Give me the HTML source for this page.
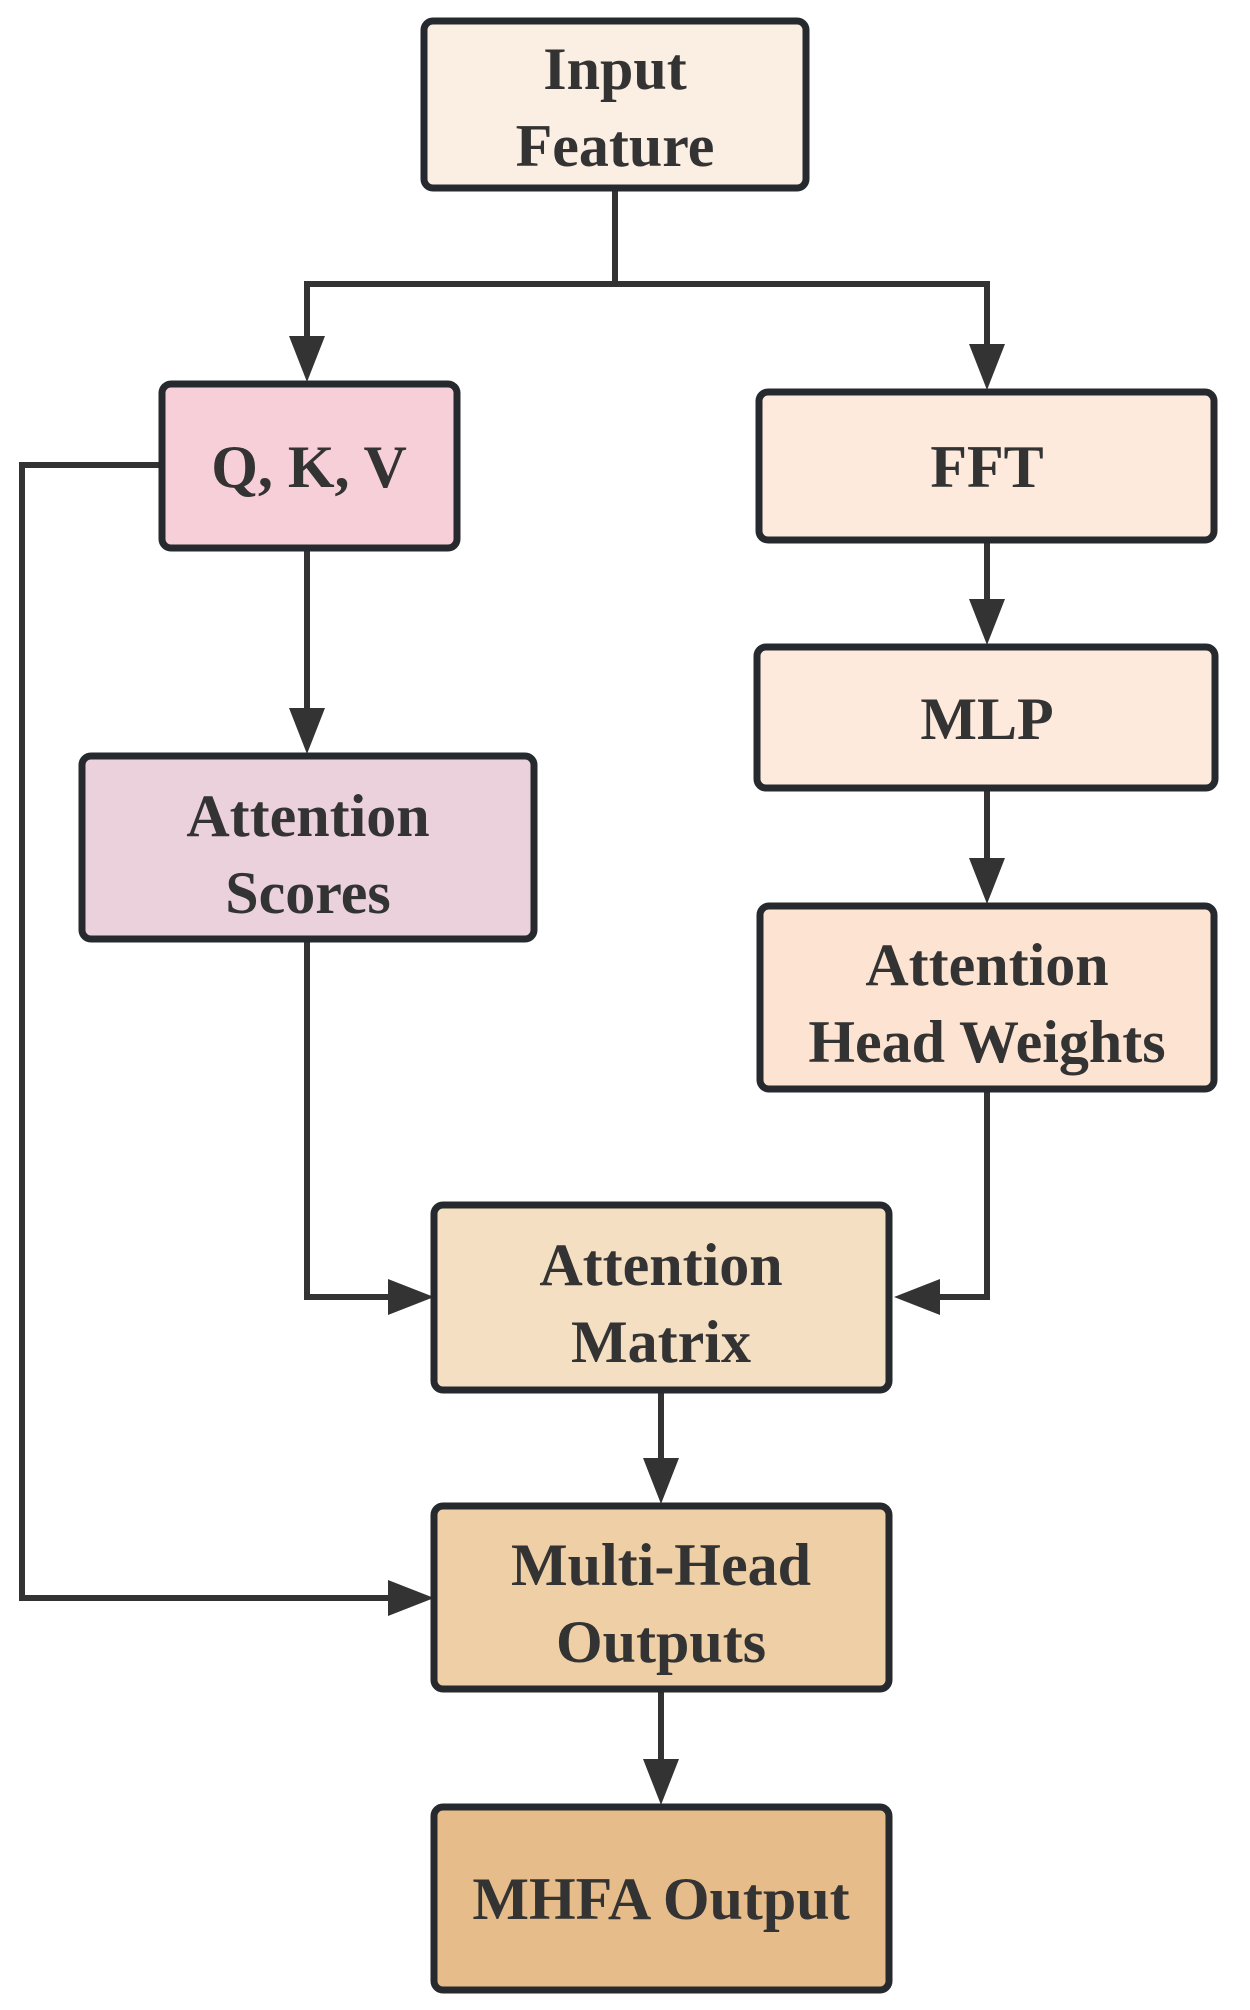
<!DOCTYPE html>
<html><head><meta charset="utf-8"><style>
html,body{margin:0;padding:0;background:#fff;}
svg{display:block}
text{font-family:"Liberation Serif",serif;font-weight:bold;font-size:60px;fill:#333;text-anchor:middle;}
</style></head><body>
<svg width="1250" height="2010" viewBox="0 0 1250 2010" xmlns="http://www.w3.org/2000/svg">
<g fill="none" stroke="#333" stroke-width="6">
<polyline points="615,189 615,284 307,284 307,340"/>
<polyline points="615,284 987,284 987,348"/>
<line x1="307" y1="549" x2="307" y2="712"/>
<line x1="987" y1="541" x2="987" y2="603"/>
<line x1="987" y1="789" x2="987" y2="862"/>
<polyline points="307,940 307,1297 391,1297"/>
<polyline points="987,1090 987,1297 937,1297"/>
<line x1="661" y1="1390" x2="661" y2="1462"/>
<polyline points="162,465 22,465 22,1598 391,1598"/>
<line x1="661" y1="1690" x2="661" y2="1763"/>
</g>
<g fill="#333">
<polygon points="289,336 325,336 307,382"/>
<polygon points="969,344 1005,344 987,390"/>
<polygon points="289,708 325,708 307,754"/>
<polygon points="969,599 1005,599 987,645"/>
<polygon points="969,858 1005,858 987,904"/>
<polygon points="388,1279 388,1315 434,1297"/>
<polygon points="940,1279 940,1315 894,1297"/>
<polygon points="643,1458 679,1458 661,1504"/>
<polygon points="388,1580 388,1616 434,1598"/>
<polygon points="643,1759 679,1759 661,1805"/>
</g>
<g stroke="#262a2e" stroke-width="7">
<rect x="424" y="21" width="382" height="167" rx="9" fill="#fbeee2"/>
<rect x="162" y="384" width="295" height="164" rx="9" fill="#f7cfd8"/>
<rect x="759" y="392" width="455" height="148" rx="9" fill="#fdeadd"/>
<rect x="757" y="647" width="458" height="141" rx="9" fill="#fdeadd"/>
<rect x="82" y="756" width="452" height="183" rx="9" fill="#ebd1dc"/>
<rect x="760" y="906" width="454" height="183" rx="9" fill="#fde3d1"/>
<rect x="434" y="1205" width="455" height="185" rx="9" fill="#f5dfc3"/>
<rect x="434" y="1506" width="455" height="183" rx="9" fill="#efcfa6"/>
<rect x="434" y="1807" width="455" height="183" rx="9" fill="#e6bc8a"/>
</g>
<text x="615" y="89">Input</text>
<text x="615" y="166">Feature</text>
<text x="309" y="487">Q, K, V</text>
<text x="987" y="487">FFT</text>
<text x="987" y="739">MLP</text>
<text x="308" y="836">Attention</text>
<text x="308" y="913">Scores</text>
<text x="987" y="985">Attention</text>
<text x="987" y="1062">Head Weights</text>
<text x="661" y="1285">Attention</text>
<text x="661" y="1362">Matrix</text>
<text x="661" y="1585">Multi-Head</text>
<text x="661" y="1662">Outputs</text>
<text x="661" y="1919">MHFA Output</text>
</svg>
</body></html>
